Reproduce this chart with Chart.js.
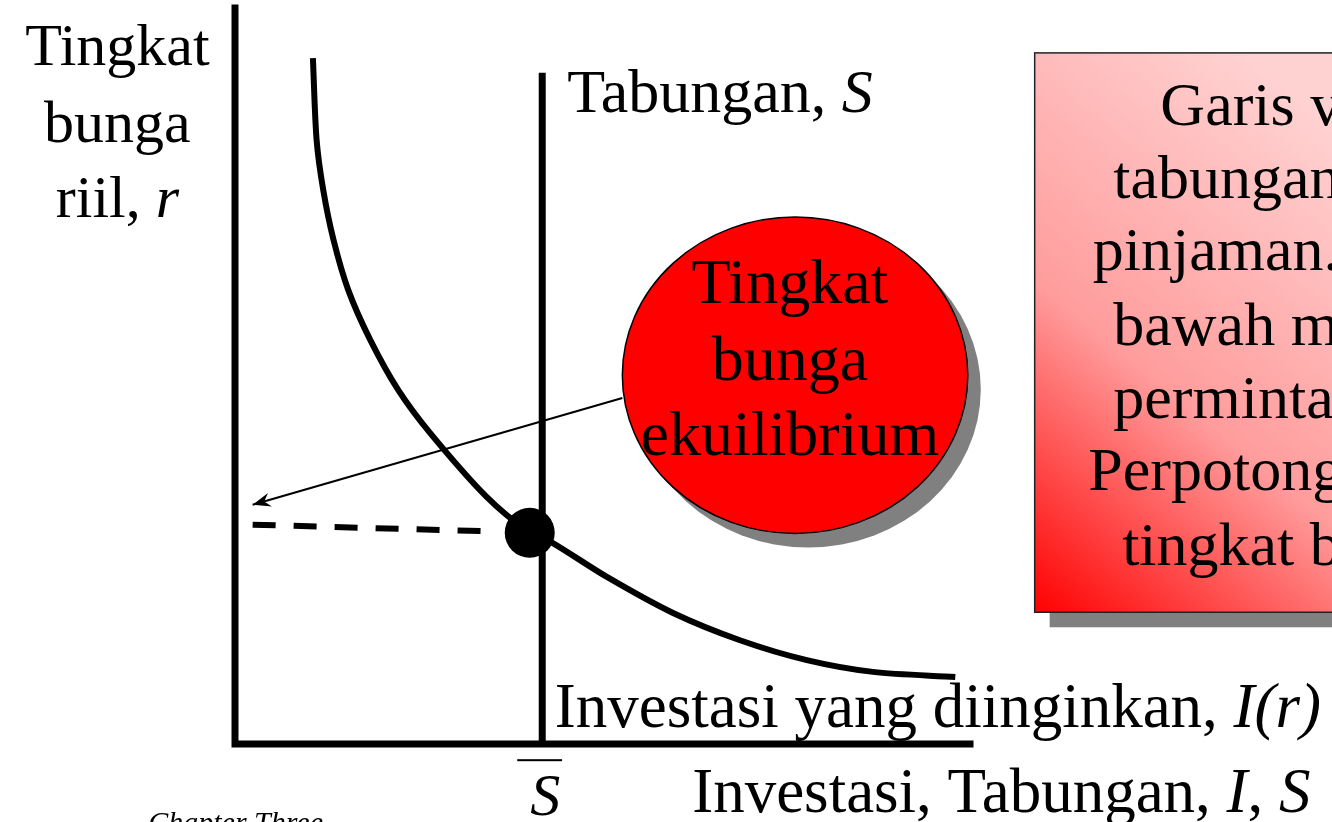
<!DOCTYPE html>
<html>
<head>
<meta charset="utf-8">
<title>Tingkat bunga ekuilibrium</title>
<script src="https://cdn.jsdelivr.net/npm/chart.js@4.4.1/dist/chart.umd.min.js"></script>
<style>
  html, body { margin: 0; padding: 0; background: #fff; overflow: hidden; }
  canvas { display: block; }
</style>
</head>
<body>
<canvas id="loanable-chart" width="1332" height="822" style="width:1332px;height:822px"></canvas>
<script>
// Investment demand curve I(r)
const investX = [1.06, 1.11, 1.20, 1.34, 1.54, 1.84, 2.22, 2.65, 3.42, 4.01, 4.29, 5.06, 5.96, 6.87, 7.78, 8.68, 9.80];
const investY = [9.32, 8.21, 7.53, 6.85, 6.17, 5.49, 4.81, 4.23, 3.36, 2.87, 2.75, 2.27, 1.78, 1.41, 1.14, 0.98, 0.91];

// Fixed saving S-bar (vertical line)
const savingX = [4.18, 4.18];
const savingY = [0, 9.12];

// Equilibrium point and dashed guide to the r axis
const eqX = [4.01];
const eqY = [2.87];
const dashX = [0.24, 3.43];
const dashY = [2.98, 2.89];

// Pointer from the bubble to the r axis
const arrowX = [5.27, 0.24];
const arrowY = [4.70, 3.25];

// Axes
const axisX = [0, 0, 10];
const axisY = [10, 0, 0];

const yLabel = ['Tingkat', 'bunga', 'riil, '];
const bubbleLines = ['Tingkat', 'bunga', 'ekuilibrium'];
const noteLines = ['Garis vertikal', 'tabungan, penawaran', 'pinjaman. Garis ke', 'bawah menunjukkan',
                   'permintaan pinjaman.', 'Perpotongan menentukan', 'tingkat bunga ekuilibrium.'];

const SERIF = '"Liberation Serif", "Times New Roman", serif';

function pts(xs, ys) {
  return xs.map((x, i) => ({ x: x, y: ys[i] }));
}

// draw a line of text made of plain / italic pieces
function richText(ctx, parts, x, y, size, align) {
  let total = 0;
  parts.forEach(p => {
    ctx.font = (p[1] ? 'italic ' : '') + size + 'px ' + SERIF;
    total += ctx.measureText(p[0]).width;
  });
  let cx = x;
  if (align === 'center') cx = x - total / 2;
  ctx.textAlign = 'left';
  ctx.textBaseline = 'alphabetic';
  parts.forEach(p => {
    ctx.font = (p[1] ? 'italic ' : '') + size + 'px ' + SERIF;
    ctx.fillText(p[0], cx, y);
    cx += ctx.measureText(p[0]).width;
  });
}

const annotations = {
  id: 'annotations',
  beforeDatasetsDraw(chart) {
    const ctx = chart.ctx;
    const sx = chart.scales.x, sy = chart.scales.y;
    const X = v => sx.getPixelForValue(v), Y = v => sy.getPixelForValue(v);

    // note box on the right, with drop shadow and gradient fill
    const bl = X(10.88), bt = Y(9.39), bb = Y(1.79), br = X(16.67);
    ctx.save();
    ctx.fillStyle = '#808080';
    ctx.fillRect(bl + 15, bt + 15, br - bl, bb - bt);
    const g = ctx.createLinearGradient(bl, bb, bl + 360, bb - 440);
    g.addColorStop(0, '#ff0000');
    g.addColorStop(0.45, '#ff9c9c');
    g.addColorStop(1, '#ffd2d2');
    ctx.fillStyle = g;
    ctx.fillRect(bl, bt, br - bl, bb - bt);
    ctx.strokeStyle = '#222';
    ctx.lineWidth = 1.5;
    ctx.strokeRect(bl, bt, br - bl, bb - bt);

    ctx.fillStyle = '#000';
    const noteLeft = [12.59, 11.95, 11.67, 11.95, 11.95, 11.61, 12.07];
    const noteBase = [8.41, 7.42, 6.44, 5.42, 4.43, 3.45, 2.43];
    noteLines.forEach((t, i) => richText(ctx, [[t, false]], X(noteLeft[i]), Y(noteBase[i]), 62, 'left'));
    ctx.restore();
  },
  afterDatasetsDraw(chart) {
    const ctx = chart.ctx;
    const sx = chart.scales.x, sy = chart.scales.y;
    const X = v => sx.getPixelForValue(v), Y = v => sy.getPixelForValue(v);
    ctx.save();

    // arrow head at the r axis end of the pointer
    const tx = X(arrowX[1]), ty = Y(arrowY[1]);
    const ang = Math.atan2(ty - Y(arrowY[0]), tx - X(arrowX[0]));
    ctx.fillStyle = '#000';
    ctx.beginPath();
    ctx.moveTo(tx, ty);
    ctx.lineTo(tx - 18 * Math.cos(ang) + 7 * Math.sin(ang), ty - 18 * Math.sin(ang) - 7 * Math.cos(ang));
    ctx.lineTo(tx - 12 * Math.cos(ang), ty - 12 * Math.sin(ang));
    ctx.lineTo(tx - 18 * Math.cos(ang) - 7 * Math.sin(ang), ty - 18 * Math.sin(ang) + 7 * Math.cos(ang));
    ctx.closePath();
    ctx.fill();

    // red bubble
    const ecx = X(7.62), ecy = Y(5.01);
    const erx = X(2.35) - X(0), ery = Y(0) - Y(2.15);
    ctx.fillStyle = '#808080';
    ctx.beginPath();
    ctx.ellipse(ecx + 13, ecy + 14, erx, ery, 0, 0, Math.PI * 2);
    ctx.fill();
    ctx.fillStyle = '#ff0000';
    ctx.strokeStyle = '#000';
    ctx.lineWidth = 1.5;
    ctx.beginPath();
    ctx.ellipse(ecx, ecy, erx, ery, 0, 0, Math.PI * 2);
    ctx.fill();
    ctx.stroke();
    ctx.fillStyle = '#000';
    const bubbleBase = [5.99, 4.95, 3.93];
    bubbleLines.forEach((t, i) => richText(ctx, [[t, false]], X(7.55), Y(bubbleBase[i]), 64, 'center'));

    // axis and curve labels
    const yBase = [9.23, 8.18, 7.16];
    richText(ctx, [[yLabel[0], false]], X(-1.6), Y(yBase[0]), 60, 'center');
    richText(ctx, [[yLabel[1], false]], X(-1.6), Y(yBase[1]), 60, 'center');
    richText(ctx, [[yLabel[2], false], ['r', true]], X(-1.6), Y(yBase[2]), 60, 'center');

    richText(ctx, [['Tabungan, ', false], ['S', true]], X(4.52), Y(8.59), 62, 'left');
    richText(ctx, [['Investasi yang diinginkan, ', false], ['I(r)', true]], X(4.35), Y(0.23), 63, 'left');
    richText(ctx, [['Investasi, Tabungan, ', false], ['I', true], [', ', false], ['S', true]], X(6.22), Y(-0.92), 63, 'left');

    // S-bar under the saving line
    richText(ctx, [['S', true]], X(4.22), Y(-0.96), 60, 'center');
    ctx.fillRect(X(3.84), Y(-0.22) - 1, X(4.45) - X(3.84), 2);

    // slide footer
    richText(ctx, [['Chapter Three', true]], X(-1.18), Y(-1.20), 30, 'left');
    ctx.restore();
  }
};

const line = (data, extra) => Object.assign({
  data: data,
  showLine: true,
  borderColor: '#000',
  backgroundColor: '#000',
  pointRadius: 0,
  fill: false,
  clip: false
}, extra);

new Chart(document.getElementById('loanable-chart'), {
  type: 'scatter',
  data: {
    datasets: [
      line(pts(axisX, axisY), { label: 'Axes', borderWidth: 7, borderJoinStyle: 'miter', borderCapStyle: 'square' }),
      line(pts(savingX, savingY), { label: 'Tabungan, S', borderWidth: 7 }),
      line(pts(investX, investY), { label: 'Investasi yang diinginkan, I(r)', borderWidth: 6, tension: 0.3 }),
      line(pts(dashX, dashY), { label: 'r*', borderWidth: 6, borderDash: [23, 18] }),
      line(pts(arrowX, arrowY), { label: 'pointer', borderWidth: 2 }),
      line(pts(eqX, eqY), { label: 'Ekuilibrium', showLine: false, pointRadius: 25, pointHoverRadius: 25, borderWidth: 0 })
    ]
  },
  options: {
    responsive: false,
    animation: false,
    events: [],
    layout: { autoPadding: false, padding: { left: 235, right: 362, top: 8, bottom: 78 } },
    plugins: {
      legend: { display: false },
      tooltip: { enabled: false }
    },
    scales: {
      x: { type: 'linear', min: 0, max: 10, display: false },
      y: { type: 'linear', min: 0, max: 10, display: false }
    }
  },
  plugins: [annotations]
});
</script>
</body>
</html>
